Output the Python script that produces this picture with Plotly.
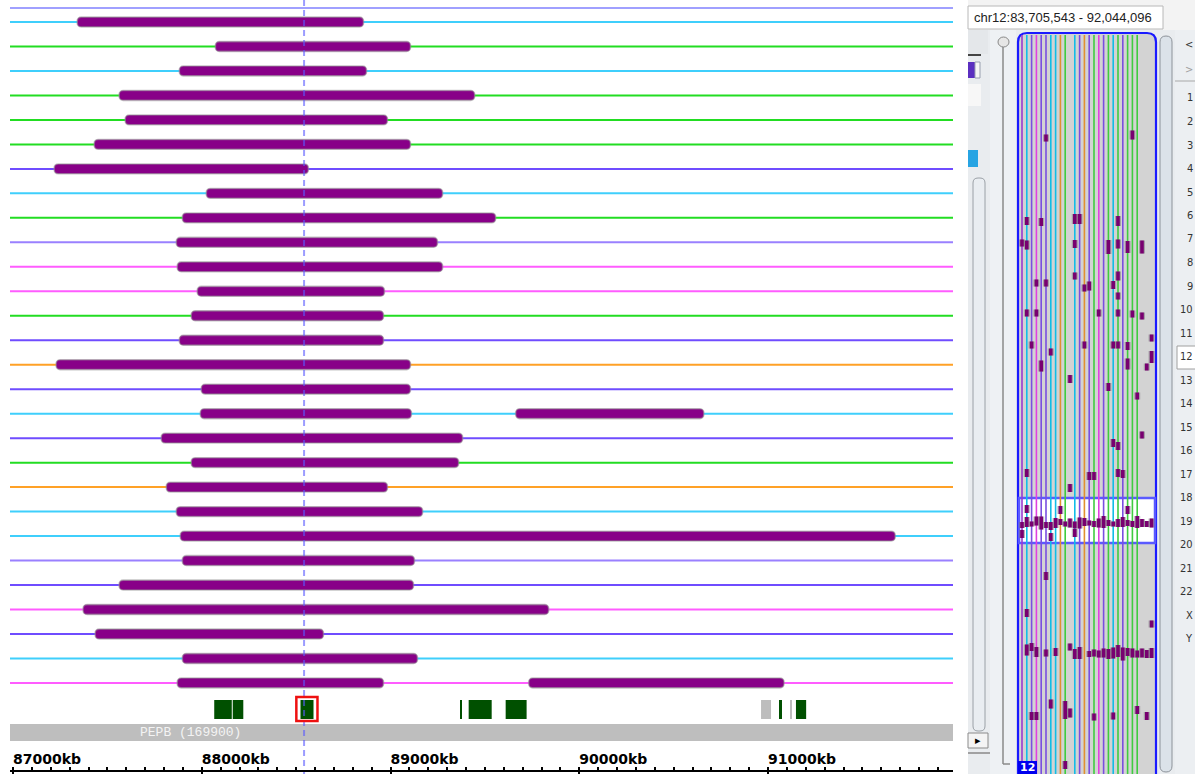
import plotly.graph_objects as go

# ---------------- data ----------------
# main track rows: colour of each sample line and its CNV segments (kb)
row_colors = ["cyan", "green", "cyan", "green", "green", "green", "blueviolet", "cyan",
              "green", "lightpurple", "magenta", "magenta", "green", "blueviolet", "orange",
              "blueviolet", "cyan", "blueviolet", "green", "orange", "cyan", "cyan",
              "lightpurple", "blueviolet", "magenta", "blueviolet", "cyan", "magenta"]
seg_rows = [0, 1, 2, 3, 4, 5, 6, 7, 8, 9, 10, 11, 12, 13, 14, 15, 16, 16, 17, 18, 19, 20,
            21, 22, 23, 24, 25, 26, 27, 27]
seg_start = [87340, 88072, 87881, 87562, 87594, 87430, 87218, 88024, 87897, 87865, 87870,
             87976, 87944, 87881, 87228, 87997, 87992, 89663, 87785, 87944, 87812, 87865,
             87886, 87897, 87562, 87371, 87435, 87897, 87870, 89732]
seg_end = [88857, 89106, 88873, 89446, 88984, 89106, 88565, 89276, 89557, 89249, 89276,
           88968, 88963, 88963, 89106, 89106, 89111, 90660, 89382, 89361, 88984, 89170,
           91674, 89127, 89122, 89838, 88645, 89143, 88963, 91085]
top_partial_row = -0.57

# gene track (kb)
gene_start = [88066, 88164, 88523, 89371, 89414, 89610, 91058, 91148]
gene_end = [88159, 88220, 88592, 89378, 89536, 89721, 91074, 91202]
gray_gene_start = [90963, 91117]
gray_gene_end = [91016, 91127]
selected_gene = (88501, 88613)
gene_name = "PEPB (169900)"
gene_name_kb = 87938
cursor_kb = 88542

x_min, x_max = 86984, 91980
tick_kb = [87000, 88000, 89000, 90000, 91000]
tick_labels = ["87000kb", "88000kb", "89000kb", "90000kb", "91000kb"]

# overview panel (right)
ov_line_cols = [0, 1, 2, 3, 4, 5, 6, 7, 8, 9, 11, 12, 13, 14, 15, 16, 17, 18, 19, 20, 21, 22, 23, 24]
ov_line_colors = ["purple", "cyan", "blueviolet", "magenta", "blueviolet", "blueviolet", "cyan",
                  "cyan", "orange", "green", "cyan", "blueviolet", "orange", "blueviolet",
                  "green", "magenta", "blueviolet", "green", "cyan", "green", "blueviolet",
                  "green", "green", "green"]
ov_mark_col = [1, 4, 11, 12, 20, 0, 1, 11, 18, 20, 22, 25, 3, 5, 11, 13, 14, 19, 20, 20,
               1, 3, 16, 20, 23, 25, 2, 6, 4, 13, 19, 20, 22, 27, 27, 26, 22, 10, 18, 24,
               25, 19, 20, 1, 14, 15, 20, 21, 5, 23, 10, 1, 8, 22, 0, 6, 11,
               0, 1, 2, 3, 4, 5, 6, 7, 8, 9, 10, 11, 12, 13, 14, 15, 16, 17, 18, 19, 20,
               21, 22, 23, 24, 25, 26, 27,
               5, 1, 27,
               1, 2, 3, 5, 7, 10, 11, 12, 14, 15, 16, 17, 18, 19, 20, 21, 22, 23, 24, 25, 26, 27,
               2, 3, 6, 9, 10, 15, 19, 24, 26, 9]
ov_mark_pos = [188, 189, 186, 186, 188, 210, 212, 211, 214, 211, 214, 214, 250, 250, 243, 255,
               253, 252, 243, 263, 280, 280, 280, 280, 281, 283, 312, 319, 333, 312, 312, 312,
               313, 305, 324, 334, 331, 346, 354, 363, 402, 410, 413, 440, 443, 443, 440, 441,
               105, 102, 455, 476, 477, 477, 501, 504, 500,
               492, 489, 491, 488, 490, 492, 493, 490, 489, 491, 490, 492, 490, 489, 490, 491,
               490, 489, 490, 491, 490, 489, 490, 491, 489, 490, 491, 490,
               543, 580, 591,
               617, 614, 619, 620, 619, 614, 621, 620, 621, 620, 621, 620, 621, 620, 618, 621,
               619, 620, 621, 620, 621, 620,
               683, 683, 671, 677, 680, 684, 683, 677, 683, 732]
ov_mark_len = [8, 8, 10, 10, 10, 7, 9, 8, 14, 9, 12, 13, 7, 7, 7, 7, 9, 8, 9, 7,
               7, 7, 7, 7, 7, 7, 7, 7, 11, 7, 7, 7, 8, 7, 12, 7, 11, 8, 8, 7,
               7, 8, 8, 8, 8, 8, 8, 8, 7, 9, 8, 8, 8, 8, 8, 8, 8,
               6, 10, 5, 9, 13, 6, 8, 10, 6, 5, 9, 7, 11, 8, 5, 6, 9, 12, 6, 5, 8, 10, 6, 6,
               12, 8, 6, 9,
               8, 8, 7,
               11, 8, 10, 7, 8, 7, 10, 12, 6, 7, 7, 9, 10, 11, 12, 13, 8, 9, 7, 9, 8, 10,
               8, 8, 9, 18, 9, 7, 7, 8, 8, 8]
chrom_labels = ["<", ">", "1", "2", "3", "4", "5", "6", "7", "8", "9", "10", "11", "12", "13",
                "14", "15", "16", "17", "18", "19", "20", "21", "22", "X", "Y"]
header_text = "chr12:83,705,543 - 92,044,096"

# ---------------- styles ----------------
W, H = 1195, 774
line_palette = {"cyan": "#3fcffc", "green": "#22dd22", "blueviolet": "#6f4cff",
                "lightpurple": "#9a80ff", "magenta": "#ff5cff", "orange": "#ffa126",
                "purple": "#a040d0"}
ov_palette = {"cyan": "#12bde6", "green": "#3fcc3f", "blueviolet": "#7a4ee0",
              "magenta": "#e040e0", "orange": "#e09030", "purple": "#9a3ad0"}

def px(x):
    return x / W

def py(y):
    return 1 - y / H

# main y axis in row units: row i at pixel 22 + 24.48*i
ROW0, ROWH = 22.0, 24.48
y_top = (0 - ROW0) / ROWH
y_bot = (H - ROW0) / ROWH

fig = go.Figure()

# sample lines (thin bars so that segment bars are drawn on top of them)
for cname in dict.fromkeys(row_colors):
    rows = [i for i, c in enumerate(row_colors) if c == cname]
    fig.add_trace(go.Bar(orientation="h", y=rows, x=[x_max - x_min] * len(rows),
                         base=[x_min] * len(rows), width=2 / ROWH,
                         marker=dict(color=line_palette[cname], line=dict(width=0)),
                         showlegend=False, hoverinfo="skip"))
fig.add_trace(go.Bar(orientation="h", y=[top_partial_row], x=[x_max - x_min], base=[x_min],
                     width=2 / ROWH, marker=dict(color="#a0a0ff", line=dict(width=0)),
                     showlegend=False, hoverinfo="skip"))

# CNV segments
fig.add_trace(go.Bar(orientation="h", y=seg_rows,
                     x=[e - s for s, e in zip(seg_start, seg_end)], base=seg_start,
                     width=0.4, marker=dict(color="#880088", cornerradius=4,
                                            line=dict(color="rgba(150,150,150,0.55)", width=1.6)),
                     showlegend=False, hoverinfo="skip"))

# gene track
gene_row = (709.5 - ROW0) / ROWH
fig.add_trace(go.Bar(orientation="h", y=[gene_row] * len(gene_start),
                     x=[e - s for s, e in zip(gene_start, gene_end)], base=gene_start,
                     width=19 / ROWH, marker=dict(color="#005000", line=dict(width=0)),
                     showlegend=False, hoverinfo="skip"))
fig.add_trace(go.Bar(orientation="h", y=[gene_row] * len(gray_gene_start),
                     x=[e - s for s, e in zip(gray_gene_start, gray_gene_end)], base=gray_gene_start,
                     width=19 / ROWH, marker=dict(color="#bdbdbd", line=dict(width=0)),
                     showlegend=False, hoverinfo="skip"))
name_row = (732.5 - ROW0) / ROWH
fig.add_trace(go.Bar(orientation="h", y=[name_row], x=[x_max - x_min], base=[x_min],
                     width=17 / ROWH, marker=dict(color="#bebebe", line=dict(width=0)),
                     showlegend=False, hoverinfo="skip"))

# cursor
fig.add_trace(go.Scatter(x=[cursor_kb, cursor_kb], y=[y_top, y_bot], mode="lines",
                         line=dict(color="rgba(90,90,255,0.6)", width=2, dash="6px,4px"),
                         showlegend=False, hoverinfo="skip"))

# overview lines
xs_l = {}
for c, col in zip(ov_line_cols, ov_line_colors):
    xs_l.setdefault(col, [])
    xs_l[col].append(c)
for col, cs in xs_l.items():
    xs, ys = [], []
    for c in cs:
        xs += [c, c, None]
        ys += [2, 741, None]
    fig.add_trace(go.Scatter(x=xs, y=ys, xaxis="x2", yaxis="y2", mode="lines",
                             line=dict(color=ov_palette[col], width=1.6),
                             showlegend=False, hoverinfo="skip"))
mx, my = [], []
for c, p, l in zip(ov_mark_col, ov_mark_pos, ov_mark_len):
    mx += [c, c, None]
    my += [p - l / 2, p + l / 2, None]
fig.add_trace(go.Scatter(x=mx, y=my, xaxis="x2", yaxis="y2",
                         mode="lines", line=dict(color="rgba(120,110,120,0.5)", width=6),
                         showlegend=False, hoverinfo="skip"))
fig.add_trace(go.Scatter(x=mx, y=my, xaxis="x2", yaxis="y2", mode="lines",
                         line=dict(color="#780070", width=3.6),
                         showlegend=False, hoverinfo="skip"))

# ---------------- chrome shapes ----------------
shapes = []

def rect(x0, y0, x1, y1, fill, line=None, lw=1, layer="below"):
    shapes.append(dict(type="rect", xref="paper", yref="paper", x0=px(x0), x1=px(x1),
                       y0=py(y1), y1=py(y0), fillcolor=fill,
                       line=dict(color=line or "rgba(0,0,0,0)", width=lw if line else 0),
                       layer=layer))

def hline(x0, x1, y, color, lw=1):
    shapes.append(dict(type="line", xref="paper", yref="paper", x0=px(x0), x1=px(x1),
                       y0=py(y), y1=py(y), line=dict(color=color, width=lw), layer="below"))

def vline(x, y0, y1, color, lw=1, layer="below"):
    shapes.append(dict(type="line", xref="paper", yref="paper", x0=px(x), x1=px(x),
                       y0=py(y0), y1=py(y1), line=dict(color=color, width=lw), layer=layer))

def rounded(x0, y0, x1, y1, r, fill, line, lw=1, layer="below"):
    X0, X1, Y0, Y1 = px(x0), px(x1), py(y0), py(y1)
    rx, ry = r / W, r / H
    p = (f"M{X0+rx},{Y0} L{X1-rx},{Y0} Q{X1},{Y0} {X1},{Y0-ry} L{X1},{Y1+ry} "
         f"Q{X1},{Y1} {X1-rx},{Y1} L{X0+rx},{Y1} Q{X0},{Y1} {X0},{Y1+ry} "
         f"L{X0},{Y0-ry} Q{X0},{Y0} {X0+rx},{Y0} Z")
    shapes.append(dict(type="path", xref="paper", yref="paper", path=p, fillcolor=fill,
                       line=dict(color=line, width=lw), layer=layer))

rect(953, 0, 1195, 774, "#ffffff")
rect(968, 0, 1195, 30, "#f3f3f3")
rect(968, 30, 1195, 774, "#e9ecef")
rect(968, 6, 1163, 29, "#ffffff", "#b8b8b8")
# left control strip
rect(968, 30, 988, 54, "#e4e7ea")
hline(968, 981, 55, "#444444", 2)
rect(968, 62, 975, 78, "#5b2fc0")
rect(975, 62, 980, 78, "#f6f6f6", "#9aa0b0")
rect(968, 84, 981, 106, "#f7f7f7")
rect(968, 150, 978, 167, "#27a4e3")
rounded(973, 178, 985, 731, 5, "#e9edf1", "#9aa0a6")
rect(968, 733, 988, 748, "#f4f4f4", "#8a8a8a")
hline(968, 990, 753, "#888888", 1.5)
# slider
rect(990, 30, 1016, 774, "#eef1f4")
vline(1003, 47, 764, "#8a8a8a", 1.5)
hline(1003, 1010, 764, "#8a8a8a", 1.5)
shapes.append(dict(type="circle", xref="paper", yref="paper", x0=px(998), x1=px(1009),
                   y0=py(47), y1=py(37), fillcolor="#e6e6e6", line=dict(color="#888888", width=1),
                   layer="below"))
# overview panel
rounded(1018, 33, 1156, 784, 9, "#d3d3d3", "#1a1aff", 2.2)
rect(1019, 498, 1155, 543, "#ffffff", "#5a5aff", 2.5)
# right scrollbar
rounded(1160, 36, 1172, 772, 6, "#dbe2e9", "#8c9299")
rect(1175, 30, 1195, 774, "#eceff2")
hline(1175, 1195, 81, "#a8a8a8", 1)
rect(1177, 346, 1196, 369, "#ffffff", "#a0a0a0")
rect(1018, 761, 1037, 774, "#0000ee", layer="above")
# selected gene frame
shapes.append(dict(type="rect", xref="x", yref="y", x0=selected_gene[0], x1=selected_gene[1],
                   y0=(697 - ROW0) / ROWH, y1=(721 - ROW0) / ROWH,
                   line=dict(color="#ee1111", width=2.5), fillcolor="rgba(0,0,0,0)",
                   layer="above"))

annotations = []
annotations.append(dict(x=gene_name_kb, y=name_row, xref="x", yref="y",
                        text=gene_name, showarrow=False, xanchor="center", yanchor="middle",
                        font=dict(family="Liberation Mono", size=13, color="#f4f4f4")))
annotations.append(dict(x=px(972), y=py(17), xref="paper", yref="paper", text=header_text,
                        showarrow=False, xanchor="left", yanchor="middle",
                        font=dict(family="Liberation Sans", size=13, color="#222222")))
chrom_y = [45, 70] + [98 + 23.5 * k for k in range(24)]
for lab, yy in zip(chrom_labels, chrom_y):
    annotations.append(dict(x=px(1194.5), y=py(yy), xref="paper", yref="paper", text=lab,
                            showarrow=False, xanchor="right", yanchor="middle",
                            font=dict(family="DejaVu Sans Condensed", size=11,
                                      color="#a0a0a0" if lab == ">" else "#333333")))
annotations.append(dict(x=px(1027.5), y=py(767.5), xref="paper", yref="paper", text="<b>12</b>",
                        showarrow=False, xanchor="center", yanchor="middle",
                        font=dict(family="DejaVu Sans", size=11, color="#ffffff")))
annotations.append(dict(x=px(978), y=py(740.5), xref="paper", yref="paper", text="▸",
                        showarrow=False, xanchor="center", yanchor="middle",
                        font=dict(family="DejaVu Sans", size=11, color="#000000")))

fig.update_layout(
    width=W, height=H, margin=dict(l=0, r=0, t=0, b=0),
    paper_bgcolor="white", plot_bgcolor="rgba(0,0,0,0)",
    barmode="overlay", showlegend=False,
    shapes=shapes, annotations=annotations,
    xaxis=dict(domain=[px(10), px(953)], range=[x_min, x_max], anchor="free",
               position=(H - 770.5) / H, side="top", showline=True, linecolor="black",
               linewidth=2, ticks="inside", ticklen=5, tickwidth=2, tickcolor="black",
               tickvals=tick_kb, ticktext=tick_labels, ticklabelshift=34,
               tickfont=dict(family="DejaVu Sans", size=14, color="black", weight="bold"),
               minor=dict(dtick=100, tick0=87000, ticks="outside", ticklen=3, tickwidth=1.5,
                          tickcolor="black", showgrid=False),
               showgrid=False, zeroline=False, fixedrange=True),
    yaxis=dict(domain=[0, 1], range=[y_bot, y_top], visible=False, anchor="x",
               fixedrange=True),
    xaxis2=dict(domain=[px(1018), px(1156)], range=[(1018 - 1022) / 4.8, (1156 - 1022) / 4.8],
                anchor="y2", visible=False, fixedrange=True),
    yaxis2=dict(domain=[0, py(33)], range=[741, 0], anchor="x2", visible=False,
                fixedrange=True),
)

fig.write_html("out.html", config={"displayModeBar": False},
               post_script="document.body.style.margin='0px';document.body.style.overflow='hidden';")
